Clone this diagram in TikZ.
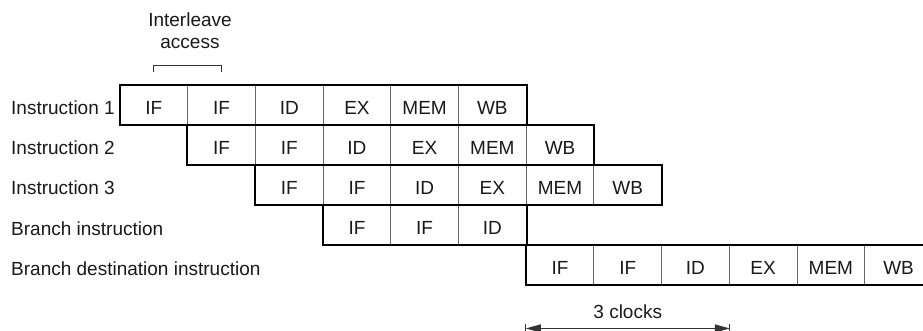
\documentclass[tikz,border=0pt]{standalone}
\usepackage{fontspec}
\setmainfont{Liberation Sans}
\usetikzlibrary{arrows.meta,calc}
\begin{document}
\begin{tikzpicture}[x=1pt,y=-1pt,
  txt/.style={font=\fontsize{19}{22}\selectfont,text=black!90},
  cell/.style={txt,draw=black!60,line width=0.9pt,minimum width=67.7pt,minimum height=40pt,
    inner sep=0pt,text height=19.5pt,text depth=0pt},
  lbl/.style={txt,anchor=base west,inner sep=0pt},
  outline/.style={draw=black,line width=2pt,line join=miter},
  thin/.style={draw=black!80,line width=0.9pt},
]
\useasboundingbox (0,0) rectangle (923,331);
\clip (0,0) rectangle (923,331);
% cells
\foreach \r/\off/\lst in {1/0/{IF,IF,ID,EX,MEM,WB},2/1/{IF,IF,ID,EX,MEM,WB},3/2/{IF,IF,ID,EX,MEM,WB},4/3/{IF,IF,ID},5/6/{IF,IF,ID,EX,MEM,WB}}{
  \foreach \t [count=\i] in \lst {
    \node[cell] (c\r-\i) at ({86.15+(\off+\i)*67.7},{65+40*\r}) {\t};
  }
}
% row outlines
\draw[outline] (c1-1.north west) rectangle (c1-6.south east);
\draw[outline] (c2-1.north west) rectangle (c2-6.south east);
\draw[outline] (c3-1.north west) rectangle (c3-6.south east);
\draw[outline] (c4-1.north west) rectangle (c4-3.south east);
\draw[outline] (c5-1.north west) rectangle (c5-6.south east);
% row labels
\node[lbl] (l1) at (11,115) {Instruction 1};
\node[lbl] (l2) at (11,155) {Instruction 2};
\node[lbl] (l3) at (11,195) {Instruction 3};
\node[lbl] (l4) at (11,235) {Branch instruction};
\node[lbl] (l5) at (11,275) {Branch destination instruction};
% interleave access
\node[txt,anchor=base,inner sep=0pt] (il1) at (190,26.7) {Interleave};
\node[txt,anchor=base,inner sep=0pt] (il2) at (190,49) {access};
\coordinate (bL) at ($(c1-1.center)+(0,-33.3)$);
\coordinate (bR) at ($(c1-2.center)+(0,-33.3)$);
\draw[thin] (bL) -- ++(0,-6.4) -| (bR);
% 3 clocks
\coordinate (aL) at ($(c5-1.south west)+(0,43)$);
\coordinate (aR) at ($(c5-3.south east)+(0,43)$);
\draw[thin,{Triangle[length=15pt,width=8pt]}-{Triangle[length=15pt,width=8pt]}] (aL) -- (aR);
\draw[thin] ($(aL)+(0,-4.5)$) -- ($(aL)+(0,4.5)$);
\draw[thin] ($(aR)+(0,-4.5)$) -- ($(aR)+(0,4.5)$);
\node[txt,anchor=base,inner sep=0pt] (clk) at ($(aL)!0.5!(aR)+(0,-10)$) {3 clocks};
\end{tikzpicture}
\end{document}
